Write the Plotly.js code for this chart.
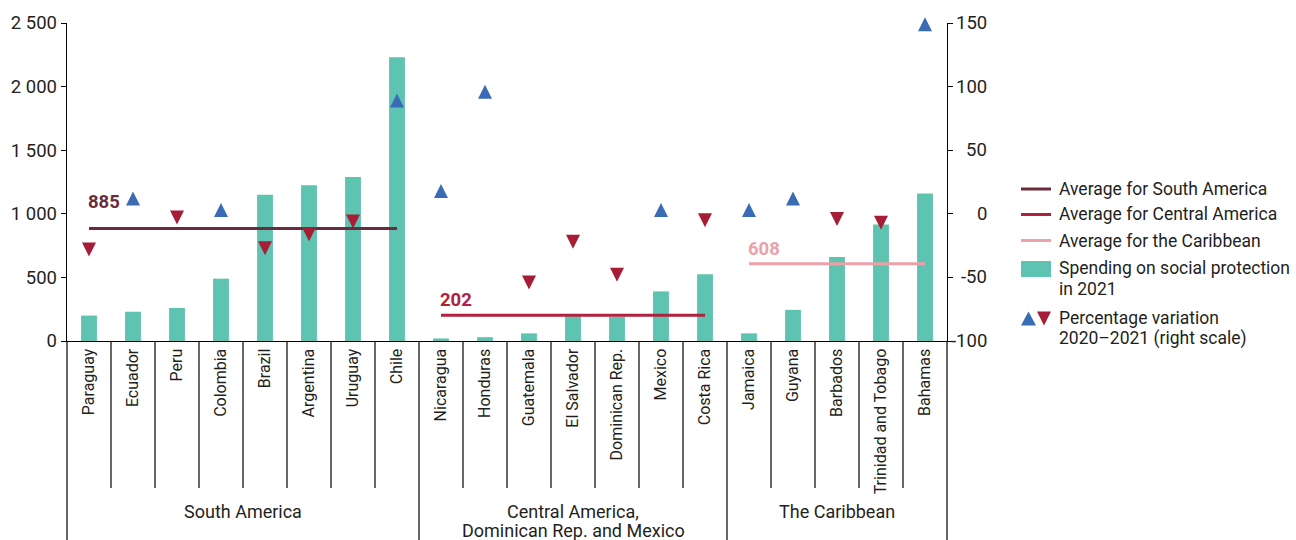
<!DOCTYPE html>
<html>
<head>
<meta charset="utf-8">
<script src="https://cdn.plot.ly/plotly-3.0.1.min.js"></script>
<style>html,body{margin:0;padding:0;background:#fff;}#chart{width:1296px;height:540px;}</style>
</head>
<body>
<div id="chart"></div>
<script>
// ---------- data ----------
const categories = ['Paraguay','Ecuador','Peru','Colombia','Brazil','Argentina','Uruguay','Chile',
  'Nicaragua','Honduras','Guatemala','El Salvador','Dominican Rep.','Mexico','Costa Rica',
  'Jamaica','Guyana','Barbados','Trinidad and Tobago','Bahamas'];
const spending2021 = [200,230,260,490,1150,1225,1290,2230, 20,30,60,195,190,390,525, 60,245,660,915,1160];
const variation = [-28,12,-3,3,-27,-16,-6,89, 18,96,-54,-22,-48,3,-5, 3,12,-4,-7,149];
const groupLabels = ['South America','Central America,<br>Dominican Rep. and Mexico','The Caribbean'];
const groupFirst = ['Paraguay','Nicaragua','Jamaica'];
const groupLast = ['Chile','Costa Rica','Bahamas'];
const groupAverages = [885,202,608];
const averageNames = ['Average for South America','Average for Central America','Average for the Caribbean'];
const leftTicks = [0,500,1000,1500,2000,2500];
const rightTicks = [-100,-50,0,50,100,150];
const legendTexts = ['Average for South America','Average for Central America','Average for the Caribbean',
  'Spending on social protection<br>in 2021','Percentage variation<br>2020\u20132021 (right scale)'];

// ---------- style ----------
const FONT = "Roboto,'Liberation Sans',sans-serif";
const TXT = '#231f20';
const BAR = '#5ec4b1';
const UP = '#3a6cb6';
const DOWN = '#a71d36';
const AVG_COLORS = ['#6b2b3b','#b0213d','#eba2aa'];
const W = 1296, H = 540, ML = 67, MR = 349, MT = 23, MB = 199;
const PW = W - ML - MR, PH = H - MT - MB;
const px2x = px => (px - ML) / PW;
const py2y = py => (H - MB - py) / PH;

const traces = [];
traces.push({
  type: 'bar', x: categories, y: spending2021, yaxis: 'y', width: 0.36,
  marker: {color: BAR}, hoverinfo: 'x+y', name: 'Spending on social protection in 2021'
});
for (let g = 0; g < groupAverages.length; g++) {
  traces.push({
    type: 'scatter', mode: 'lines', x: [groupFirst[g], groupLast[g]],
    y: [groupAverages[g], groupAverages[g]], yaxis: 'y',
    line: {color: AVG_COLORS[g], width: 3}, name: averageNames[g]
  });
}
traces.push({
  type: 'scatter', mode: 'markers', x: categories, y: variation, yaxis: 'y2', cliponaxis: false,
  name: 'Percentage variation 2020\u20132021',
  marker: {
    symbol: 'arrow-down', size: 14, standoff: 7,
    angle: variation.map(v => v >= 0 ? 180 : 0),
    color: variation.map(v => v >= 0 ? UP : DOWN),
    line: {width: 0}
  }
});

const shapes = [];
const annotations = [];
// category dividers
const groupIdx = groupFirst.map(c => categories.indexOf(c));
for (let k = 1; k < categories.length; k++) {
  const isGroup = groupIdx.includes(k);
  shapes.push({type: 'line', xref: 'x', yref: 'paper', x0: k - 0.5, x1: k - 0.5,
    y0: 0, y1: isGroup ? py2y(545) : py2y(488), line: {color: '#000', width: 1.2}});
}
[0, 1].forEach(px => shapes.push({type: 'line', xref: 'paper', yref: 'paper', x0: px, x1: px,
  y0: 0, y1: py2y(545), line: {color: '#000', width: 1.2}}));

// group labels
for (let g = 0; g < groupLabels.length; g++) {
  const i0 = categories.indexOf(groupFirst[g]), i1 = categories.indexOf(groupLast[g]);
  groupLabels[g].split('<br>').forEach((line, j) => {
    annotations.push({xref: 'x', yref: 'paper', x: (i0 + i1) / 2, y: py2y(511 + j * 19.5),
      text: line, showarrow: false, xanchor: 'center', yanchor: 'middle',
      font: {family: FONT, size: 18, color: TXT}});
  });
}
// average labels
const avgShift = [26, 15, 15];
for (let g = 0; g < groupAverages.length; g++) {
  annotations.push({xref: 'x', yref: 'y', x: groupFirst[g], y: groupAverages[g], yshift: avgShift[g], xshift: -3,
    text: '<b>' + groupAverages[g] + '</b>', showarrow: false, xanchor: 'left', yanchor: 'middle',
    font: {family: FONT, size: 18.5, color: AVG_COLORS[g]}});
}
// right axis labels (right aligned)
rightTicks.forEach(v => annotations.push({xref: 'paper', yref: 'y2', x: px2x(989), y: v,
  text: String(v), showarrow: false, xanchor: 'right', yanchor: 'middle',
  font: {family: FONT, size: 18.5, color: TXT}}));

// manual legend
const legY = [189, 214.5, 240.5, 268, 318];
for (let i = 0; i < 3; i++) {
  shapes.push({type: 'line', xref: 'paper', yref: 'paper', x0: px2x(1021), x1: px2x(1051),
    y0: py2y(legY[i]), y1: py2y(legY[i]), line: {color: AVG_COLORS[i], width: 3}});
}
shapes.push({type: 'rect', xref: 'paper', yref: 'paper', x0: px2x(1021), x1: px2x(1051),
  y0: py2y(261), y1: py2y(277), fillcolor: BAR, line: {width: 0}});
shapes.push({type: 'path', xref: 'paper', yref: 'paper', fillcolor: UP, line: {width: 0},
  path: `M${px2x(1021)},${py2y(325.5)} L${px2x(1036)},${py2y(325.5)} L${px2x(1028.5)},${py2y(311.5)} Z`});
shapes.push({type: 'path', xref: 'paper', yref: 'paper', fillcolor: DOWN, line: {width: 0},
  path: `M${px2x(1037)},${py2y(311.5)} L${px2x(1051)},${py2y(311.5)} L${px2x(1044)},${py2y(325.5)} Z`});
legendTexts.forEach((t, i) => {
  t.split('<br>').forEach((line, j) => {
    annotations.push({xref: 'paper', yref: 'paper', x: px2x(1057), y: py2y(legY[i] + j * 20.5),
      text: line, showarrow: false, xanchor: 'left', yanchor: 'middle',
      font: {family: FONT, size: 17.5, color: TXT}});
  });
});

const layout = {
  width: W, height: H,
  margin: {l: ML, r: MR, t: MT, b: MB, pad: 0},
  paper_bgcolor: '#fff', plot_bgcolor: '#fff',
  showlegend: false, separators: '. ',
  font: {family: FONT, size: 18.5, color: TXT},
  xaxis: {type: 'category', range: [-0.5, categories.length - 0.5], showline: true, linecolor: '#000', linewidth: 1.3,
    ticks: '', tickangle: -90, showgrid: false, zeroline: false,
    tickfont: {family: FONT, size: 16, color: TXT}},
  yaxis: {range: [0, 2500], tickvals: leftTicks, tickformat: ',d', showline: true, linecolor: '#000', linewidth: 1.3,
    ticks: 'outside', ticklen: 5, tickcolor: '#000', showgrid: false, zeroline: false,
    tickfont: {family: FONT, size: 18.5, color: TXT}},
  yaxis2: {range: [-100, 150], tickvals: rightTicks, overlaying: 'y', side: 'right', showline: true,
    linecolor: '#000', linewidth: 1.3, ticks: 'outside', ticklen: 5, tickcolor: '#000',
    showticklabels: false, showgrid: false, zeroline: false},
  shapes: shapes, annotations: annotations
};
Plotly.newPlot('chart', traces, layout, {displayModeBar: false, staticPlot: true});
</script>
</body>
</html>
